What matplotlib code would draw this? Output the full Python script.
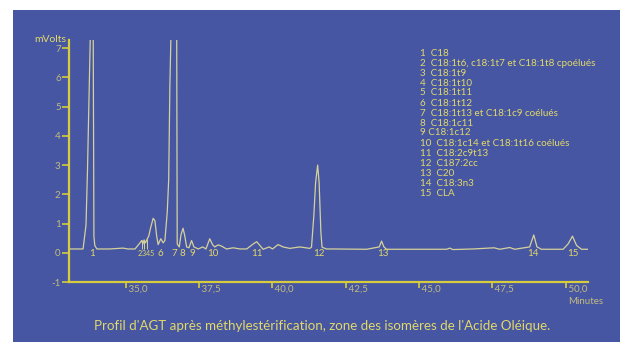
import matplotlib

matplotlib.use("Agg")
import matplotlib.pyplot as plt
from matplotlib.patches import Rectangle

# Chromatogram trace (minutes, mV)
time_min = [
    33.06, 33.54, 33.64, 33.69, 33.82, 33.88, 33.91, 33.94, 34.01, 34.45,
    34.90, 35.07, 35.31, 35.45, 35.54, 35.58, 35.62, 35.67, 35.73, 35.78,
    35.84, 35.93, 35.99, 36.05, 36.10, 36.19, 36.27, 36.33, 36.41, 36.46,
    36.50, 36.57, 36.73, 36.75, 36.82, 36.88, 36.95, 37.01, 37.07, 37.15,
    37.24, 37.32, 37.47, 37.62, 37.73, 37.86, 37.96, 38.03, 38.15, 38.26,
    38.43, 38.66, 38.89, 39.12, 39.34, 39.46, 39.57, 39.68, 39.89, 40.00,
    40.19, 40.36, 40.59, 40.93, 41.27, 41.33, 41.41, 41.47, 41.54, 41.59,
    41.65, 41.69, 41.84, 42.07, 43.21, 43.64, 43.72, 43.80, 43.89, 44.91,
    45.94, 46.05, 46.15, 46.83, 47.56, 47.75, 48.09, 48.26, 48.77, 48.91,
    49.02, 49.17, 49.91, 50.08, 50.23, 50.37, 50.54, 50.76,
]
signal_mv = [
    0.13, 0.13, 0.95, 2.80, 9.00, 9.00, 0.55, 0.25, 0.13, 0.13,
    0.16, 0.13, 0.13, 0.30, 0.42, 0.30, 0.44, 0.34, 0.48, 0.57,
    0.84, 1.18, 1.10, 0.57, 0.28, 0.48, 0.34, 0.42, 1.38, 2.50,
    5.70, 9.00, 9.00, 0.30, 0.20, 0.62, 0.84, 0.57, 0.20, 0.17,
    0.42, 0.20, 0.13, 0.20, 0.13, 0.48, 0.27, 0.20, 0.27, 0.23,
    0.13, 0.17, 0.13, 0.13, 0.30, 0.38, 0.25, 0.12, 0.20, 0.13,
    0.28, 0.20, 0.15, 0.20, 0.15, 0.19, 1.27, 2.40, 3.00, 2.40,
    0.71, 0.19, 0.13, 0.13, 0.12, 0.20, 0.40, 0.20, 0.12, 0.12,
    0.12, 0.16, 0.11, 0.13, 0.17, 0.12, 0.18, 0.12, 0.20, 0.61,
    0.20, 0.12, 0.12, 0.30, 0.57, 0.25, 0.12, 0.12,
]

# Peak numbers under the baseline
peak_labels = ["1", "2", "3", "4", "5", "6", "7", "8", "9", "10", "11", "12", "13", "14", "15"]
peak_times = [33.84, 35.47, 35.61, 35.75, 35.89, 36.19, 36.65, 36.92, 37.27, 37.96,
              39.46, 41.58, 43.77, 48.87, 50.25]

# Drop lines on the small coeluted peaks
drop_times = [35.54, 35.62, 35.73]
drop_tops = [0.42, 0.44, 0.48]

legend_lines = [
    "1  C18",
    "2  C18:1t6, c18:1t7 et C18:1t8 cpoélués",
    "3  C18:1t9",
    "4  C18:1t10",
    "5  C18:1t11",
    "6  C18:1t12",
    "7  C18:1t13 et C18:1c9 coélués",
    "8  C18:1c11",
    "9 C18:1c12",
    "10  C18:1c14 et C18:1t16 coélués",
    "11  C18:2c9t13",
    "12  C187:2cc",
    "13  C20",
    "14  C18:3n3",
    "15  CLA",
]

x_ticks = [35.0, 37.5, 40.0, 42.5, 45.0, 47.5, 50.0]
y_ticks = [-1, 0, 1, 2, 3, 4, 5, 6, 7]

caption = "Profil d'AGT après méthylestérification, zone des isomères de l'Acide Oléique."

BLUE = "#4656a3"
AXIS = "#d6cc3c"
TRACE = "#d6d29a"
TEXT = "#e2d968"
TICKTXT = "#c4bc7c"

plt.rcParams["font.family"] = ["Lato", "DejaVu Sans"]

fig = plt.figure(figsize=(6.2, 3.42), dpi=100)
fig.patch.set_facecolor("white")
fig.patches.append(Rectangle((13 / 620, 0), 1 - 13 / 620, 332 / 342,
                             transform=fig.transFigure, facecolor=BLUE,
                             edgecolor="none", zorder=-10))

ax = fig.add_axes([69 / 620, 60 / 342, 519 / 620, 242 / 342])
ax.set_facecolor("none")
ax.plot(time_min, signal_mv, color=TRACE, lw=0.9)
ax.vlines(drop_times, 0.13, drop_tops, color=TRACE, lw=0.7)

ax.set_xlim(33.06, 50.76)
ax.set_ylim(-1, 7.28)

for s in ["top", "right"]:
    ax.spines[s].set_visible(False)
for s in ["left", "bottom"]:
    ax.spines[s].set_color(AXIS)
    ax.spines[s].set_linewidth(1.6)

ax.set_yticks(y_ticks)
ax.set_yticklabels([str(v) for v in y_ticks])
ax.set_xticks(x_ticks)
# leading space keeps the label just right of its tick, as in the original
ax.set_xticklabels([" " + f"{v:.1f}".replace(".", ",") for v in x_ticks])
ax.tick_params(axis="y", colors=AXIS, labelcolor=TICKTXT, length=5, width=1.2,
               labelsize=7, pad=1)
ax.tick_params(axis="x", colors=AXIS, labelcolor=TICKTXT, length=4, width=1.2,
               labelsize=7, pad=-2)
plt.setp(ax.get_xticklabels(), ha="left")

ax.annotate("mVolts", xy=(0, 1), xycoords="axes fraction", xytext=(-2, 0),
            textcoords="offset points", ha="right", va="center",
            color=TEXT, fontsize=7.5)
ax.annotate("Minutes", xy=(1, 0), xycoords="axes fraction", xytext=(-14, -14),
            textcoords="offset points", ha="left", va="center",
            color=TICKTXT, fontsize=7)

for lab, t in zip(peak_labels, peak_times):
    ax.text(t, -0.02, lab, ha="center", va="center", color=TEXT,
            fontsize=5.2 if lab in ("2", "3", "4", "5") else 7)

for i, line in enumerate(legend_lines):
    fig.text(420 / 620, 1 - (53 + 10 * i) / 342, line, ha="left", va="center",
             color=TEXT, fontsize=7.1)

fig.text(322 / 620, 1 - 326 / 342, caption, ha="center", va="center",
         color=TEXT, fontsize=9.6)

fig.savefig("out.png", dpi=100)
